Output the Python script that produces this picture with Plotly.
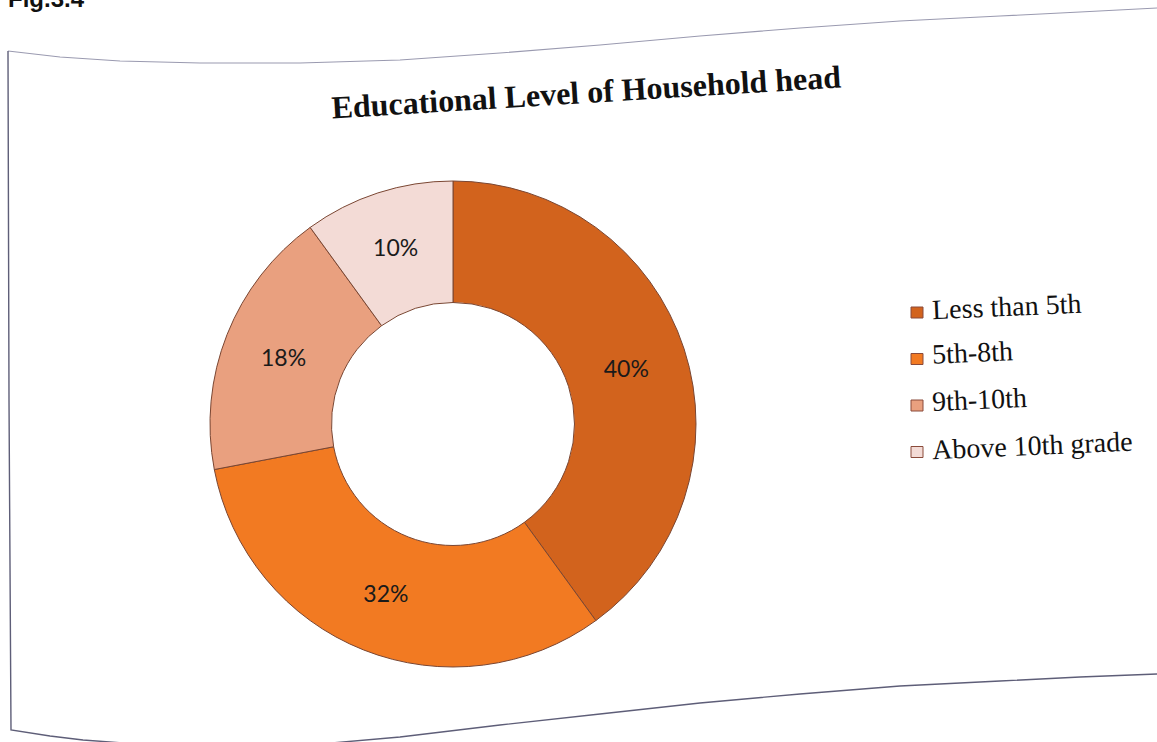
import plotly.graph_objects as go

W, H = 1157, 742

# Chart data
categories = ["Less than 5th", "5th-8th", "9th-10th", "Above 10th grade"]
shares = [40, 32, 18, 10]
slice_colors = ["#d2631d", "#f27a22", "#e9a07f", "#f3dbd6"]
chart_title = "Educational Level of Household head"
figure_label = "Fig.3.4"


def px(x):
    return x / W


def py(y):
    return 1 - y / H


def to_path(points):
    return "M " + " L ".join(f"{px(x):.5f},{py(y):.5f}" for x, y in points)


fig = go.Figure(
    go.Pie(
        labels=categories,
        values=shares,
        hole=0.5,
        sort=False,
        direction="clockwise",
        rotation=0,
        marker=dict(colors=slice_colors, line=dict(color="#7a4632", width=1)),
        texttemplate="%{percent:.0%}",
        textposition="inside",
        insidetextorientation="horizontal",
        textfont=dict(family="Lato", size=23, color="#1a1a1a"),
        domain=dict(x=[px(210), px(696)], y=[py(667), py(181)]),
        showlegend=False,
        hoverinfo="label+percent",
    )
)

shapes = []
annotations = []

# Frame around the chart area (the page is slightly warped)
top_edge = [(1157, 8), (1080, 12), (1000, 16), (900, 21), (800, 28), (700, 36),
            (600, 45), (500, 53), (400, 60), (300, 63), (200, 63), (120, 61),
            (60, 57), (8, 51)]
side_bottom = [(8, 51), (9, 400), (11, 730), (50, 736), (83, 740), (150, 745),
               (230, 747), (320, 744), (400, 737), (500, 725), (600, 714),
               (700, 703), (800, 694), (900, 686), (1000, 681), (1080, 677),
               (1157, 674)]
shapes.append(dict(type="path", xref="paper", yref="paper", path=to_path(top_edge),
                   line=dict(color="#9a9ab0", width=1.1)))
shapes.append(dict(type="path", xref="paper", yref="paper", path=to_path(side_bottom),
                   line=dict(color="#5e5e78", width=1.4)))

# Legend: square swatch + label for each category
legend_x = 911
legend_y0 = 306
legend_step = 46.5
for i, (name, col) in enumerate(zip(categories, slice_colors)):
    yc = legend_y0 + i * legend_step
    shapes.append(dict(type="rect", xref="paper", yref="paper",
                       x0=px(legend_x), x1=px(legend_x + 12),
                       y0=py(yc + 12), y1=py(yc + 1),
                       fillcolor=col, line=dict(color="#8a4a3a", width=1)))
    annotations.append(dict(text=name, xref="paper", yref="paper",
                            x=px(929), y=py(yc), xanchor="left", yanchor="middle",
                            textangle=-2.5, showarrow=False,
                            font=dict(family="Liberation Serif", size=28, color="#111111")))

# Chart title
annotations.append(dict(text=f"<b>{chart_title}</b>", xref="paper", yref="paper",
                        x=px(586), y=py(92), xanchor="center", yanchor="middle",
                        textangle=-3.5, showarrow=False,
                        font=dict(family="Liberation Serif", size=32, color="#111111")))

# Figure number, partly cut off at the top of the page
annotations.append(dict(text=f"<b>{figure_label}</b>", xref="paper", yref="paper",
                        x=px(6), y=py(14), xanchor="left", yanchor="bottom",
                        showarrow=False,
                        font=dict(family="Liberation Sans", size=24, color="#111111")))

fig.update_layout(
    width=W, height=H,
    margin=dict(l=0, r=0, t=0, b=0),
    paper_bgcolor="white",
    plot_bgcolor="white",
    shapes=shapes,
    annotations=annotations,
)

fig.write_html("out.html")
